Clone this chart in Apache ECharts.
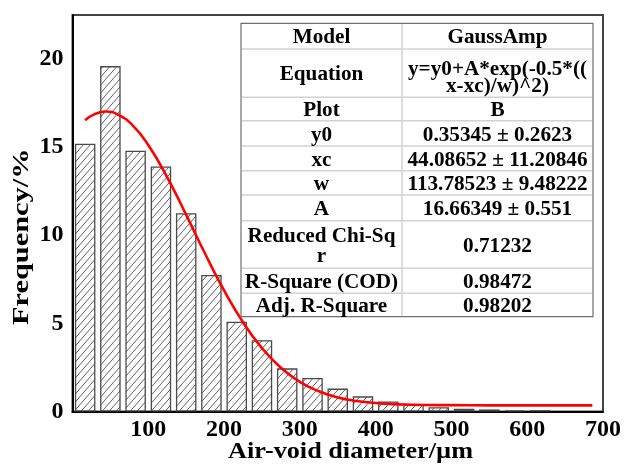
<!DOCTYPE html>
<html>
<head>
<meta charset="utf-8">
<script src="https://cdn.jsdelivr.net/npm/echarts@6/dist/echarts.min.js"></script>
<style>
  html, body { margin: 0; padding: 0; background: #fff; }
  #chart { width: 624px; height: 464px; }
</style>
</head>
<body>
<div id="chart"></div>
<script>
// Histogram bins (centre of each bin, µm) and their frequencies (%)
const binCenters = [16.7, 50, 83.3, 116.7, 150, 183.3, 216.7, 250, 283.3, 316.7,
                    350, 383.3, 416.7, 450, 483.3, 516.7, 550, 583.3, 616.7];
const frequency = [15.2, 19.6, 14.8, 13.9, 11.25, 7.75, 5.1, 4.05, 2.45, 1.9,
                   1.3, 0.86, 0.57, 0.42, 0.24, 0.15, 0.12, 0.07, 0.08];

// Fitted GaussAmp curve, sampled points
const fitX = [16.7, 30, 44, 60, 80, 100, 125, 150, 175, 200, 225, 250, 275, 300,
              325, 350, 375, 400, 450, 500, 550, 600, 650, 686];
const fitY = [16.53, 16.89, 17.02, 16.85, 16.21, 15.12, 13.29, 11.16, 8.95, 6.87,
              5.06, 3.60, 2.48, 1.68, 1.15, 0.80, 0.60, 0.48, 0.38, 0.36,
              0.35, 0.35, 0.35, 0.35];

// Fit-result table
const tableLabels = ['Model', 'Equation', 'Plot', 'y0', 'xc', 'w', 'A',
                     'Reduced Chi-Sq\nr', 'R-Square (COD)', 'Adj. R-Square'];
const tableValues = ['GaussAmp', 'y=y0+A*exp(-0.5*((\nx-xc)/w)^2)', 'B',
                     '0.35345 ± 0.2623', '44.08652 ± 11.20846', '113.78523 ± 9.48222',
                     '16.66349 ± 0.551', '0.71232', '0.98472', '0.98202'];

// Axis tick values
const xTicks = { min: 0, max: 700, interval: 100 };
const yTicks = { min: 0, max: 22.5, interval: 5 };

const SERIF = '"Liberation Serif", "Times New Roman", serif';

// Diagonal hatch tile for the bars
function hatchPattern() {
  const w = 7, h = 8;
  const c = document.createElement('canvas');
  c.width = w; c.height = h;
  const ctx = c.getContext('2d');
  ctx.fillStyle = '#fff';
  ctx.fillRect(0, 0, w, h);
  ctx.strokeStyle = '#3a3a3a';
  ctx.lineWidth = 0.8;
  for (let k = -1; k <= 1; k++) {
    ctx.beginPath();
    ctx.moveTo(k * w, h);
    ctx.lineTo(k * w + w, 0);
    ctx.stroke();
  }
  return c;
}

// Table layout
const tLeft = 241, tRight = 593, tMid = 402;
const rowEdges = [23.3, 49, 97.3, 120.7, 146, 170.7, 195, 220.7, 268.3, 293.3, 316.7];
const lineHeights = [20, 17.5, 20, 20, 20, 20, 20, 20, 20, 20];

function tableGraphics() {
  const els = [];
  const top = rowEdges[0], bottom = rowEdges[rowEdges.length - 1];
  els.push({
    type: 'rect', z: 100,
    shape: { x: tLeft, y: top, width: tRight - tLeft, height: bottom - top },
    style: { fill: '#fff', stroke: '#707070', lineWidth: 1.2 }
  });
  for (let i = 1; i < rowEdges.length - 1; i++) {
    els.push({
      type: 'line', z: 101,
      shape: { x1: tLeft + 1, y1: rowEdges[i], x2: tRight - 1, y2: rowEdges[i] },
      style: { stroke: '#d2d2d2', lineWidth: 1.5 }
    });
  }
  els.push({
    type: 'line', z: 101,
    shape: { x1: tMid, y1: top + 1, x2: tMid, y2: bottom - 1 },
    style: { stroke: '#d2d2d2', lineWidth: 1.5 }
  });
  const colCenters = [(tLeft + tMid) / 2, (tMid + tRight) / 2];
  for (let i = 0; i < tableLabels.length; i++) {
    const cy = (rowEdges[i] + rowEdges[i + 1]) / 2 + 2;
    [tableLabels[i], tableValues[i]].forEach((txt, j) => {
      // the two-line equation sits slightly lower in its cell
      const dy = (i === 1 && j === 1) ? 3 : 0;
      els.push({
        type: 'text', z: 102,
        x: colCenters[j], y: cy + dy, scaleX: 1.06,
        style: {
          text: txt, font: 'bold 20px ' + SERIF, fill: '#000',
          align: 'center', verticalAlign: 'middle',
          textAlign: 'center', textVerticalAlign: 'middle',
          lineHeight: lineHeights[i]
        }
      });
    });
  }
  return els;
}

const chart = echarts.init(document.getElementById('chart'), null, { renderer: 'canvas' });

chart.setOption({
  backgroundColor: '#fff',
  animation: false,
  grid: {
    left: 72.5, right: 20.5, top: 15, bottom: 52.5,
    show: true, borderColor: '#444', borderWidth: 2, backgroundColor: 'transparent'
  },
  xAxis: {
    type: 'value', min: xTicks.min, max: xTicks.max, interval: xTicks.interval,
    axisLine: { show: true, lineStyle: { color: '#000', width: 2 } },
    axisTick: { show: false },
    splitLine: { show: false },
    axisLabel: {
      showMinLabel: false, margin: 6,
      fontSize: 24, fontWeight: 'bold', fontFamily: SERIF, color: '#000'
    }
  },
  yAxis: {
    type: 'value', min: yTicks.min, max: yTicks.max, interval: yTicks.interval,
    axisLine: { show: true, lineStyle: { color: '#000', width: 2 } },
    axisTick: { show: false },
    splitLine: { show: false },
    axisLabel: {
      showMaxLabel: false, margin: 9,
      fontSize: 24, fontWeight: 'bold', fontFamily: SERIF, color: '#000'
    }
  },
  series: [
    {
      type: 'bar',
      barWidth: 20.5,
      data: binCenters.map((x, i) => [x, frequency[i]]),
      itemStyle: {
        color: { image: hatchPattern(), repeat: 'repeat' },
        borderColor: '#4a4a4a',
        borderWidth: 1.3
      },
      z: 2
    },
    {
      type: 'line',
      data: fitX.map((x, i) => [x, fitY[i]]),
      smooth: true,
      showSymbol: false,
      symbol: 'none',
      lineStyle: { color: '#ff0000', width: 2.6 },
      z: 3
    }
  ],
  graphic: [
    {
      type: 'text', z: 50,
      x: 350.5, y: 452, scaleX: 1.14,
      style: {
        text: 'Air-void diameter/µm', font: 'bold 23px ' + SERIF, fill: '#000',
        align: 'center', verticalAlign: 'middle',
        textAlign: 'center', textVerticalAlign: 'middle'
      }
    },
    {
      type: 'text', z: 50,
      x: 22, y: 236.7, rotation: Math.PI / 2, scaleX: 1.32,
      style: {
        text: 'Frequency/%', font: 'bold 23px ' + SERIF, fill: '#000',
        align: 'center', verticalAlign: 'middle',
        textAlign: 'center', textVerticalAlign: 'middle'
      }
    }
  ].concat(tableGraphics())
});
</script>
</body>
</html>
